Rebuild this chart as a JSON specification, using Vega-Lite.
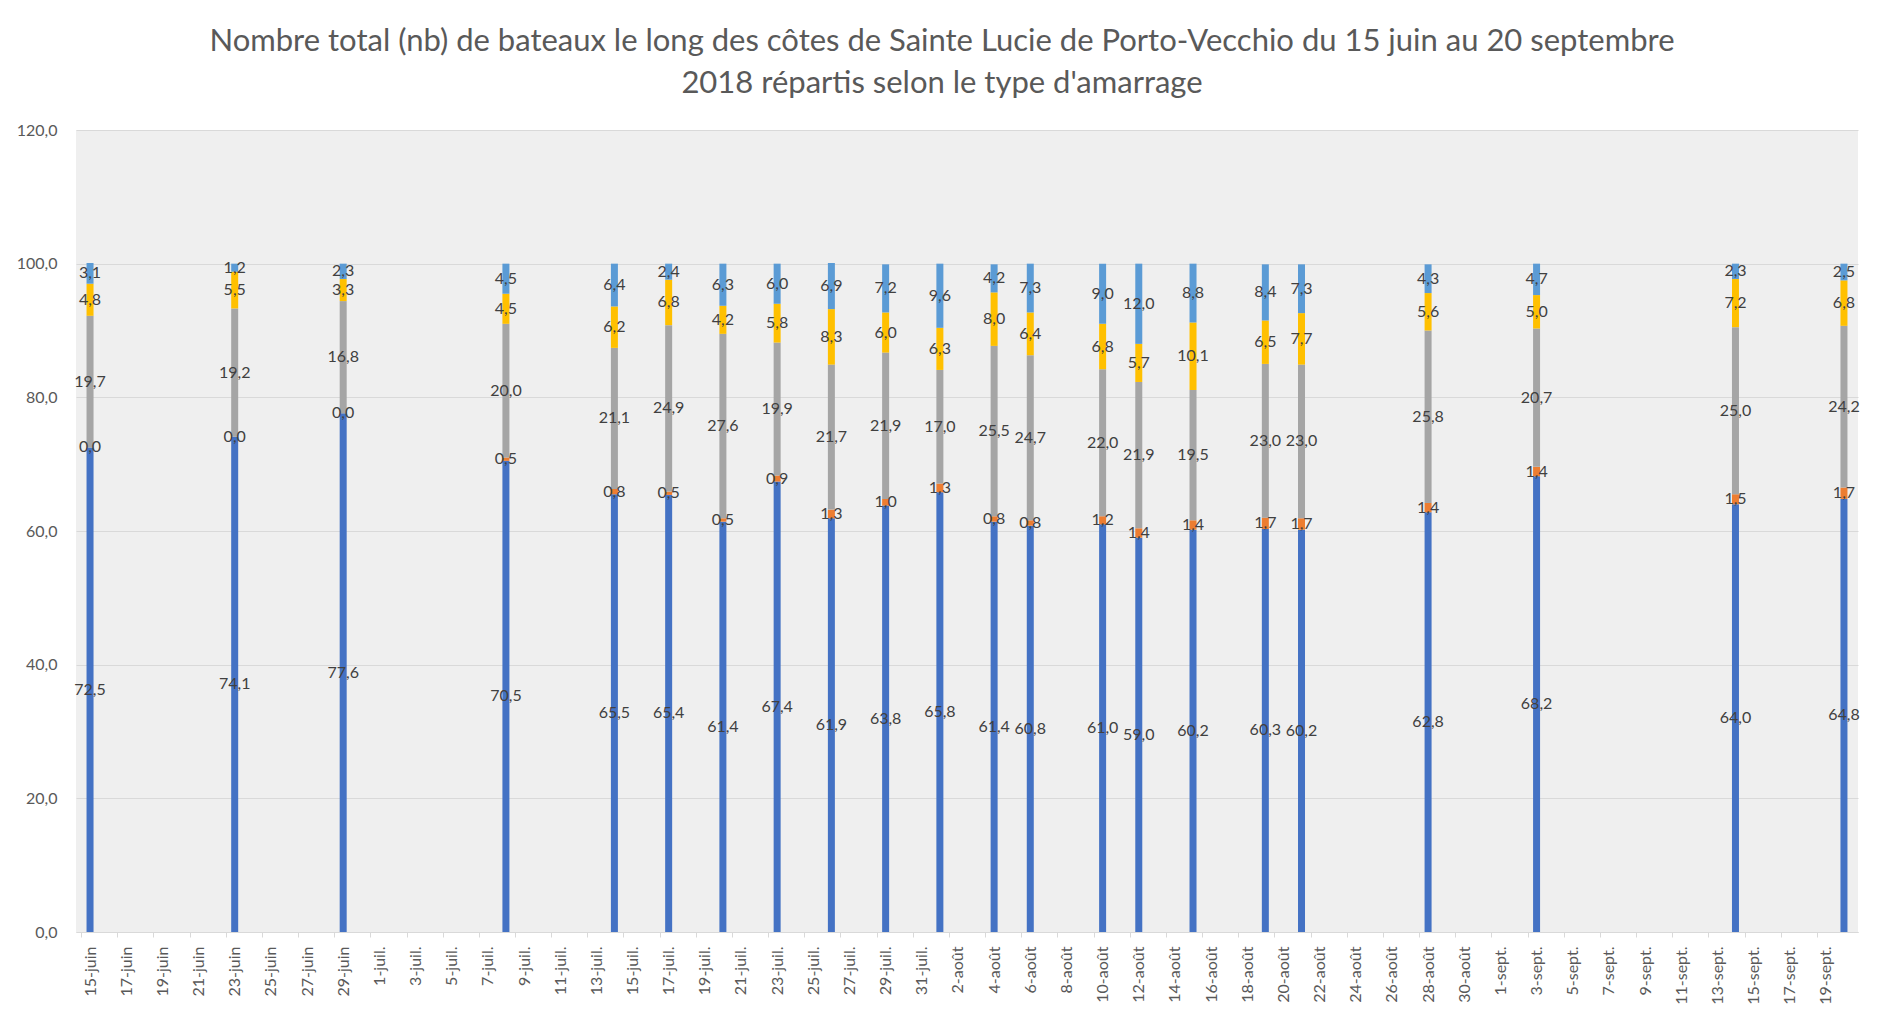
{
  "$schema": "https://vega.github.io/schema/vega-lite/v6.json",
  "width": 1782,
  "height": 802,
  "autosize": "none",
  "padding": {"left": 76, "top": 130, "right": 23, "bottom": 83},
  "background": "white",
  "title": {
    "text": ["Nombre total (nb) de bateaux le long des côtes de Sainte Lucie de Porto-Vecchio du 15 juin au 20 septembre", "2018 répartis selon le type d'amarrage"],
    "anchor": "middle",
    "frame": "group",
    "dx": -25,
    "font": "Lato",
    "fontSize": 31,
    "fontWeight": "normal",
    "color": "#595959",
    "lineHeight": 42,
    "offset": 22
  },
  "config": {
    "locale": {
      "number": {"decimal": ",", "thousands": " ", "grouping": [3], "currency": ["", " €"]},
      "time": {
        "dateTime": "%A %e %B %Y à %X",
        "date": "%d/%m/%Y",
        "time": "%H:%M:%S",
        "periods": ["AM", "PM"],
        "days": ["dimanche", "lundi", "mardi", "mercredi", "jeudi", "vendredi", "samedi"],
        "shortDays": ["dim.", "lun.", "mar.", "mer.", "jeu.", "ven.", "sam."],
        "months": ["janvier", "février", "mars", "avril", "mai", "juin", "juillet", "août", "septembre", "octobre", "novembre", "décembre"],
        "shortMonths": ["janv.", "févr.", "mars", "avr.", "mai", "juin", "juil.", "août", "sept.", "oct.", "nov.", "déc."]
      }
    },
    "view": {"stroke": null, "fill": "#efefef"},
    "font": "Lato"
  },
  "data": {
    "values": [
      {"date": "2018-06-15", "s1": 72.5, "s2": 0.0, "s3": 19.7, "s4": 4.8, "s5": 3.1},
      {"date": "2018-06-23", "s1": 74.1, "s2": 0.0, "s3": 19.2, "s4": 5.5, "s5": 1.2},
      {"date": "2018-06-29", "s1": 77.6, "s2": 0.0, "s3": 16.8, "s4": 3.3, "s5": 2.3},
      {"date": "2018-07-08", "s1": 70.5, "s2": 0.5, "s3": 20.0, "s4": 4.5, "s5": 4.5},
      {"date": "2018-07-14", "s1": 65.5, "s2": 0.8, "s3": 21.1, "s4": 6.2, "s5": 6.4},
      {"date": "2018-07-17", "s1": 65.4, "s2": 0.5, "s3": 24.9, "s4": 6.8, "s5": 2.4},
      {"date": "2018-07-20", "s1": 61.4, "s2": 0.5, "s3": 27.6, "s4": 4.2, "s5": 6.3},
      {"date": "2018-07-23", "s1": 67.4, "s2": 0.9, "s3": 19.9, "s4": 5.8, "s5": 6.0},
      {"date": "2018-07-26", "s1": 61.9, "s2": 1.3, "s3": 21.7, "s4": 8.3, "s5": 6.9},
      {"date": "2018-07-29", "s1": 63.8, "s2": 1.0, "s3": 21.9, "s4": 6.0, "s5": 7.2},
      {"date": "2018-08-01", "s1": 65.8, "s2": 1.3, "s3": 17.0, "s4": 6.3, "s5": 9.6},
      {"date": "2018-08-04", "s1": 61.4, "s2": 0.8, "s3": 25.5, "s4": 8.0, "s5": 4.2},
      {"date": "2018-08-06", "s1": 60.8, "s2": 0.8, "s3": 24.7, "s4": 6.4, "s5": 7.3},
      {"date": "2018-08-10", "s1": 61.0, "s2": 1.2, "s3": 22.0, "s4": 6.8, "s5": 9.0},
      {"date": "2018-08-12", "s1": 59.0, "s2": 1.4, "s3": 21.9, "s4": 5.7, "s5": 12.0},
      {"date": "2018-08-15", "s1": 60.2, "s2": 1.4, "s3": 19.5, "s4": 10.1, "s5": 8.8},
      {"date": "2018-08-19", "s1": 60.3, "s2": 1.7, "s3": 23.0, "s4": 6.5, "s5": 8.4},
      {"date": "2018-08-21", "s1": 60.2, "s2": 1.7, "s3": 23.0, "s4": 7.7, "s5": 7.3},
      {"date": "2018-08-28", "s1": 62.8, "s2": 1.4, "s3": 25.8, "s4": 5.6, "s5": 4.3},
      {"date": "2018-09-03", "s1": 68.2, "s2": 1.4, "s3": 20.7, "s4": 5.0, "s5": 4.7},
      {"date": "2018-09-14", "s1": 64.0, "s2": 1.5, "s3": 25.0, "s4": 7.2, "s5": 2.3},
      {"date": "2018-09-20", "s1": 64.8, "s2": 1.7, "s3": 24.2, "s4": 6.8, "s5": 2.5}
    ],
    "format": {"parse": {"date": "utc:'%Y-%m-%d'"}}
  },
  "transform": [
    {"fold": ["s1", "s2", "s3", "s4", "s5"], "as": ["type", "value"]},
    {"stack": "value", "groupby": ["date"], "sort": [{"field": "type", "order": "ascending"}], "as": ["v0", "v1"]},
    {"calculate": "(datum.v0 + datum.v1) / 2", "as": "mid"}
  ],
  "encoding": {
    "x": {
      "field": "date",
      "type": "temporal",
      "scale": {
        "type": "utc",
        "domain": [
          {"year": 2018, "month": 6, "date": 14, "hours": 12, "utc": true},
          {"year": 2018, "month": 9, "date": 20, "hours": 12, "utc": true}
        ],
        "nice": false
      },
      "axis": {
        "title": null,
        "format": "%-d-%b",
        "labelAngle": 270,
        "labelFontSize": 16,
        "labelColor": "#595959",
        "labelPadding": 9,
        "labelOffset": 9,
        "labelOverlap": false,
        "labelFlush": false,
        "labelBound": false,
        "tickColor": "#d9d9d9",
        "tickSize": 5,
        "tickOffset": -9,
        "domainColor": "#d9d9d9",
        "grid": false,
        "values": [
          {"year": 2018, "month": 6, "date": 15, "utc": true},
          {"year": 2018, "month": 6, "date": 17, "utc": true},
          {"year": 2018, "month": 6, "date": 19, "utc": true},
          {"year": 2018, "month": 6, "date": 21, "utc": true},
          {"year": 2018, "month": 6, "date": 23, "utc": true},
          {"year": 2018, "month": 6, "date": 25, "utc": true},
          {"year": 2018, "month": 6, "date": 27, "utc": true},
          {"year": 2018, "month": 6, "date": 29, "utc": true},
          {"year": 2018, "month": 7, "date": 1, "utc": true},
          {"year": 2018, "month": 7, "date": 3, "utc": true},
          {"year": 2018, "month": 7, "date": 5, "utc": true},
          {"year": 2018, "month": 7, "date": 7, "utc": true},
          {"year": 2018, "month": 7, "date": 9, "utc": true},
          {"year": 2018, "month": 7, "date": 11, "utc": true},
          {"year": 2018, "month": 7, "date": 13, "utc": true},
          {"year": 2018, "month": 7, "date": 15, "utc": true},
          {"year": 2018, "month": 7, "date": 17, "utc": true},
          {"year": 2018, "month": 7, "date": 19, "utc": true},
          {"year": 2018, "month": 7, "date": 21, "utc": true},
          {"year": 2018, "month": 7, "date": 23, "utc": true},
          {"year": 2018, "month": 7, "date": 25, "utc": true},
          {"year": 2018, "month": 7, "date": 27, "utc": true},
          {"year": 2018, "month": 7, "date": 29, "utc": true},
          {"year": 2018, "month": 7, "date": 31, "utc": true},
          {"year": 2018, "month": 8, "date": 2, "utc": true},
          {"year": 2018, "month": 8, "date": 4, "utc": true},
          {"year": 2018, "month": 8, "date": 6, "utc": true},
          {"year": 2018, "month": 8, "date": 8, "utc": true},
          {"year": 2018, "month": 8, "date": 10, "utc": true},
          {"year": 2018, "month": 8, "date": 12, "utc": true},
          {"year": 2018, "month": 8, "date": 14, "utc": true},
          {"year": 2018, "month": 8, "date": 16, "utc": true},
          {"year": 2018, "month": 8, "date": 18, "utc": true},
          {"year": 2018, "month": 8, "date": 20, "utc": true},
          {"year": 2018, "month": 8, "date": 22, "utc": true},
          {"year": 2018, "month": 8, "date": 24, "utc": true},
          {"year": 2018, "month": 8, "date": 26, "utc": true},
          {"year": 2018, "month": 8, "date": 28, "utc": true},
          {"year": 2018, "month": 8, "date": 30, "utc": true},
          {"year": 2018, "month": 9, "date": 1, "utc": true},
          {"year": 2018, "month": 9, "date": 3, "utc": true},
          {"year": 2018, "month": 9, "date": 5, "utc": true},
          {"year": 2018, "month": 9, "date": 7, "utc": true},
          {"year": 2018, "month": 9, "date": 9, "utc": true},
          {"year": 2018, "month": 9, "date": 11, "utc": true},
          {"year": 2018, "month": 9, "date": 13, "utc": true},
          {"year": 2018, "month": 9, "date": 15, "utc": true},
          {"year": 2018, "month": 9, "date": 17, "utc": true},
          {"year": 2018, "month": 9, "date": 19, "utc": true}
        ]
      }
    }
  },
  "layer": [
    {
      "mark": {"type": "bar", "size": 7},
      "encoding": {
        "y": {
          "field": "v0",
          "type": "quantitative",
          "scale": {"domain": [0, 120], "nice": false},
          "axis": {
            "title": null,
            "values": [0, 20, 40, 60, 80, 100, 120],
            "format": ".1f",
            "labelFontSize": 16,
            "labelColor": "#595959",
            "labelPadding": 19,
            "ticks": false,
            "domain": false,
            "gridColor": "#d9d9d9",
            "gridWidth": 1
          }
        },
        "y2": {"field": "v1"},
        "color": {
          "field": "type",
          "type": "nominal",
          "scale": {"domain": ["s1", "s2", "s3", "s4", "s5"], "range": ["#4472C4", "#ED7D31", "#A5A5A5", "#FFC000", "#5B9BD5"]},
          "legend": null
        }
      }
    },
    {
      "mark": {"type": "text", "fontSize": 16, "color": "#404040", "baseline": "middle", "align": "center"},
      "encoding": {
        "y": {"field": "mid", "type": "quantitative"},
        "text": {"field": "value", "type": "quantitative", "format": ".1f"}
      }
    }
  ]
}
